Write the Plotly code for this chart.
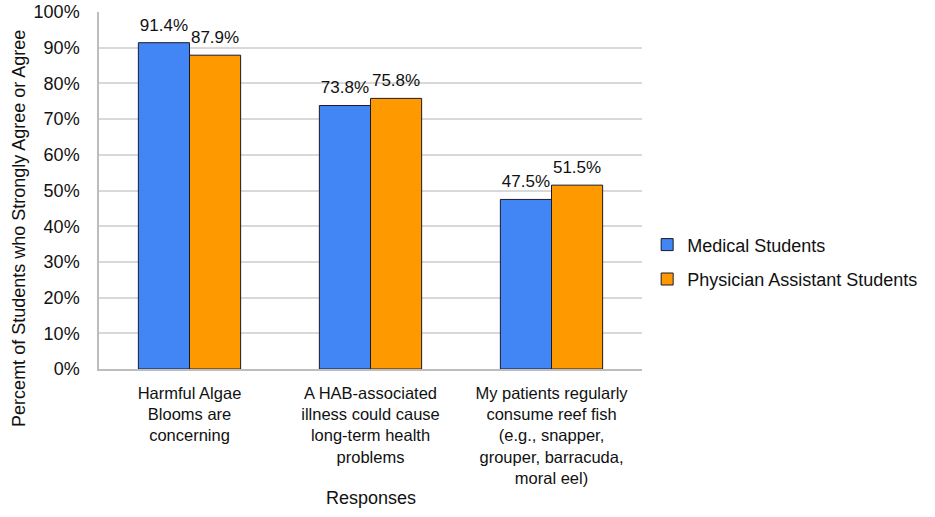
import plotly.graph_objects as go

categories = [
    "Harmful Algae<br>Blooms are<br>concerning",
    "A HAB-associated<br>illness could cause<br>long-term health<br>problems",
    "My patients regularly<br>consume reef fish<br>(e.g., snapper,<br>grouper, barracuda,<br>moral eel)",
]
medical = [91.4, 73.8, 47.5]
pa = [87.9, 75.8, 51.5]
series_names = ["Medical Students", "Physician Assistant Students"]
colors = ["#4285F4", "#FF9900"]
y_title = "Percemt of Students who Strongly Agree or Agree"
x_title = "Responses"

FONT = "Arial, Liberation Sans, sans-serif"

fig = go.Figure()
for i, (name, vals, col) in enumerate(zip(series_names, [medical, pa], colors)):
    fig.add_trace(go.Bar(
        x=categories, y=vals, name=name, legendgroup=name,
        offsetgroup=str(i),
        marker=dict(color=col, line=dict(color="#1a1a2a", width=1)),
    ))
for i, (name, vals) in enumerate(zip(series_names, [medical, pa])):
    fig.add_trace(go.Scatter(
        x=categories, y=vals, mode="markers+text", showlegend=False, hoverinfo="skip",
        offsetgroup=str(i),
        text=[f"{v:.1f}%" for v in vals],
        textposition="top center",
        marker=dict(size=11, opacity=0),
        textfont=dict(size=17, color="#111111", family=FONT),
        cliponaxis=False,
    ))

fig.update_layout(
    width=935, height=517,
    margin=dict(l=99, r=287, t=12, b=148),
    paper_bgcolor="white", plot_bgcolor="white",
    barmode="group", bargap=0.435, bargroupgap=0,
    scattermode="group", scattergap=0.435,
    font=dict(family=FONT, size=17, color="#111111"),
    legend=dict(
        x=1.0095, xanchor="left", y=0.30, yanchor="middle",
        font=dict(size=18, color="#111111"),
        bgcolor="rgba(0,0,0,0)",
        traceorder="grouped", tracegroupgap=8,
    ),
    showlegend=True,
    annotations=[
        dict(text=y_title, xref="paper", yref="paper", x=-0.1475, y=0.395,
             xanchor="center", yanchor="middle", textangle=-90, showarrow=False,
             font=dict(size=18, color="#111111")),
        dict(text=x_title, xref="paper", yref="paper", x=0.5, y=-0.361,
             xanchor="center", yanchor="middle", showarrow=False,
             font=dict(size=18, color="#111111")),
    ],
)
fig.update_xaxes(
    automargin=False,
    showline=True, linecolor="#bdbdbd", linewidth=1.5,
    ticks="", tickfont=dict(size=16.5), ticklabelstandoff=8,
    showgrid=False,
)
fig.update_yaxes(
    automargin=False,
    range=[0, 100], dtick=10, ticksuffix="%",
    showline=True, linecolor="#bdbdbd", linewidth=1.5,
    showgrid=True, gridcolor="#d9d9d9", gridwidth=1.5,
    zeroline=False, ticks="", tickfont=dict(size=18), ticklabelstandoff=14,
    ticklabeloverflow="allow",
)

fig.write_html("out.html", config={"displayModeBar": False},
               post_script="document.body.style.margin='0';")
